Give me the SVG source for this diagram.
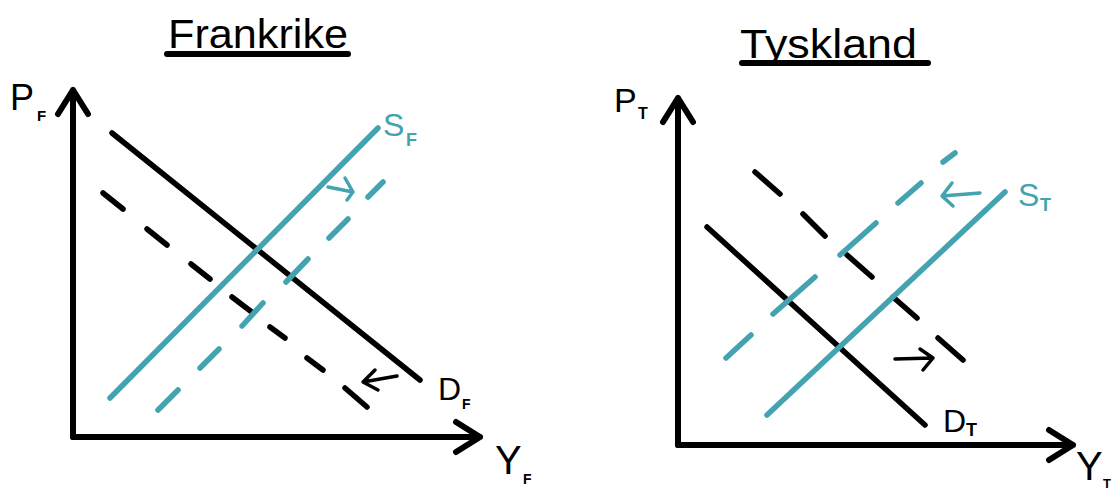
<svg xmlns="http://www.w3.org/2000/svg" width="1114" height="490" viewBox="0 0 1114 490">
<style>
.ax{stroke:#000;stroke-width:6;stroke-linecap:round;stroke-linejoin:round;fill:none}
.bk{stroke:#000;stroke-width:5.5;stroke-linecap:round;stroke-linejoin:round;fill:none}
.tl{stroke:#44a3b0;stroke-width:5.5;stroke-linecap:round;stroke-linejoin:round;fill:none}
.ar{stroke-width:3.5}
.t{font-family:"Liberation Sans",Arial,sans-serif;fill:#000}
.tt{font-family:"Liberation Sans",Arial,sans-serif;fill:#44a3b0}
</style>
<rect width="1114" height="490" fill="#fff"/>
<g id="frankrike-title">
<text class="t" x="168" y="48" font-size="40" textLength="180" lengthAdjust="spacingAndGlyphs">Frankrike</text>
<line class="ax" x1="167" y1="54" x2="348" y2="54"/>
</g>
<g id="tyskland-title">
<text class="t" x="740" y="58" font-size="40" textLength="177" lengthAdjust="spacingAndGlyphs">Tyskland</text>
<line class="ax" x1="742" y1="63" x2="928" y2="63"/>
</g>
<g id="left-axes">
<path class="ax" d="M73,437 V90 M58,114 L73,90 L88,114"/>
<path class="ax" d="M73,437 H480 M456,422 L480,437 L456,452"/>
<text class="t" x="10" y="110" font-size="36">P</text>
<text class="t" x="37" y="121" font-size="15" font-weight="bold">F</text>
<text class="t" x="495" y="474" font-size="40">Y</text>
<text class="t" x="523" y="484" font-size="14" font-weight="bold">F</text>
</g>
<g id="right-axes">
<path class="ax" d="M678,445 V98 M663,122 L678,98 L693,122"/>
<path class="ax" d="M678,445 H1073 M1049,430 L1073,445 L1049,460"/>
<text class="t" x="614" y="112" font-size="34">P</text>
<text class="t" x="638" y="119" font-size="16" font-weight="bold">T</text>
<text class="t" x="1076" y="480" font-size="40">Y</text>
<text class="t" x="1103" y="488" font-size="13" font-weight="bold">T</text>
</g>
<g id="connectors">
<line class="bk" x1="112" y1="133" x2="420" y2="380"/>
<path class="bk" d="M103,193 L123,209 M147,229 L167,245 M191,264 L210,279 M232,297 L253,313 M270,327 L285,338 M307,358 L323,370 M345,388 L367,407"/>
<line class="tl" x1="110" y1="398" x2="378" y2="128"/>
<path class="tl" d="M383,182 L368,197 M348,219 L329,238 M308,259 L286,282 M263,303 L242,326 M219,349 L200,368 M178,390 L158,410"/>
<path class="tl ar" d="M328,187 L353,192 M345,178 L353,192 L347,200"/>
<path class="bk ar" d="M397,376 L363,382 M375,370 L363,382 L378,390"/>
<line class="bk" x1="707" y1="227" x2="925" y2="425"/>
<path class="bk" d="M755,172 L780,194 M803,214 L825,236 M847,255 L872,277 M893,297 L917,318 M938,338 L963,360"/>
<line class="tl" x1="1005" y1="192" x2="767" y2="415"/>
<path class="tl" d="M955,153 L943,162 M921,183 L898,203 M876,223 L840,255 M815,277 L773,314 M751,335 L726,358"/>
<path class="tl ar" d="M980,193 L942,196 M952,183 L942,196 L953,206"/>
<path class="bk ar" d="M895,359 L933,358 M920,349 L933,358 L923,370"/>
</g>
<g id="labels">
<text class="tt" x="383" y="136" font-size="32">S</text>
<text class="tt" x="406" y="146" font-size="18" font-weight="bold">F</text>
<text class="t" x="438" y="400" font-size="32">D</text>
<text class="t" x="462" y="409" font-size="14" font-weight="bold">F</text>
<text class="tt" x="1018" y="206" font-size="32">S</text>
<text class="tt" x="1040" y="211" font-size="18" font-weight="bold">T</text>
<text class="t" x="943" y="432" font-size="32">D</text>
<text class="t" x="966" y="436" font-size="18" font-weight="bold">T</text>
</g>
</svg>
